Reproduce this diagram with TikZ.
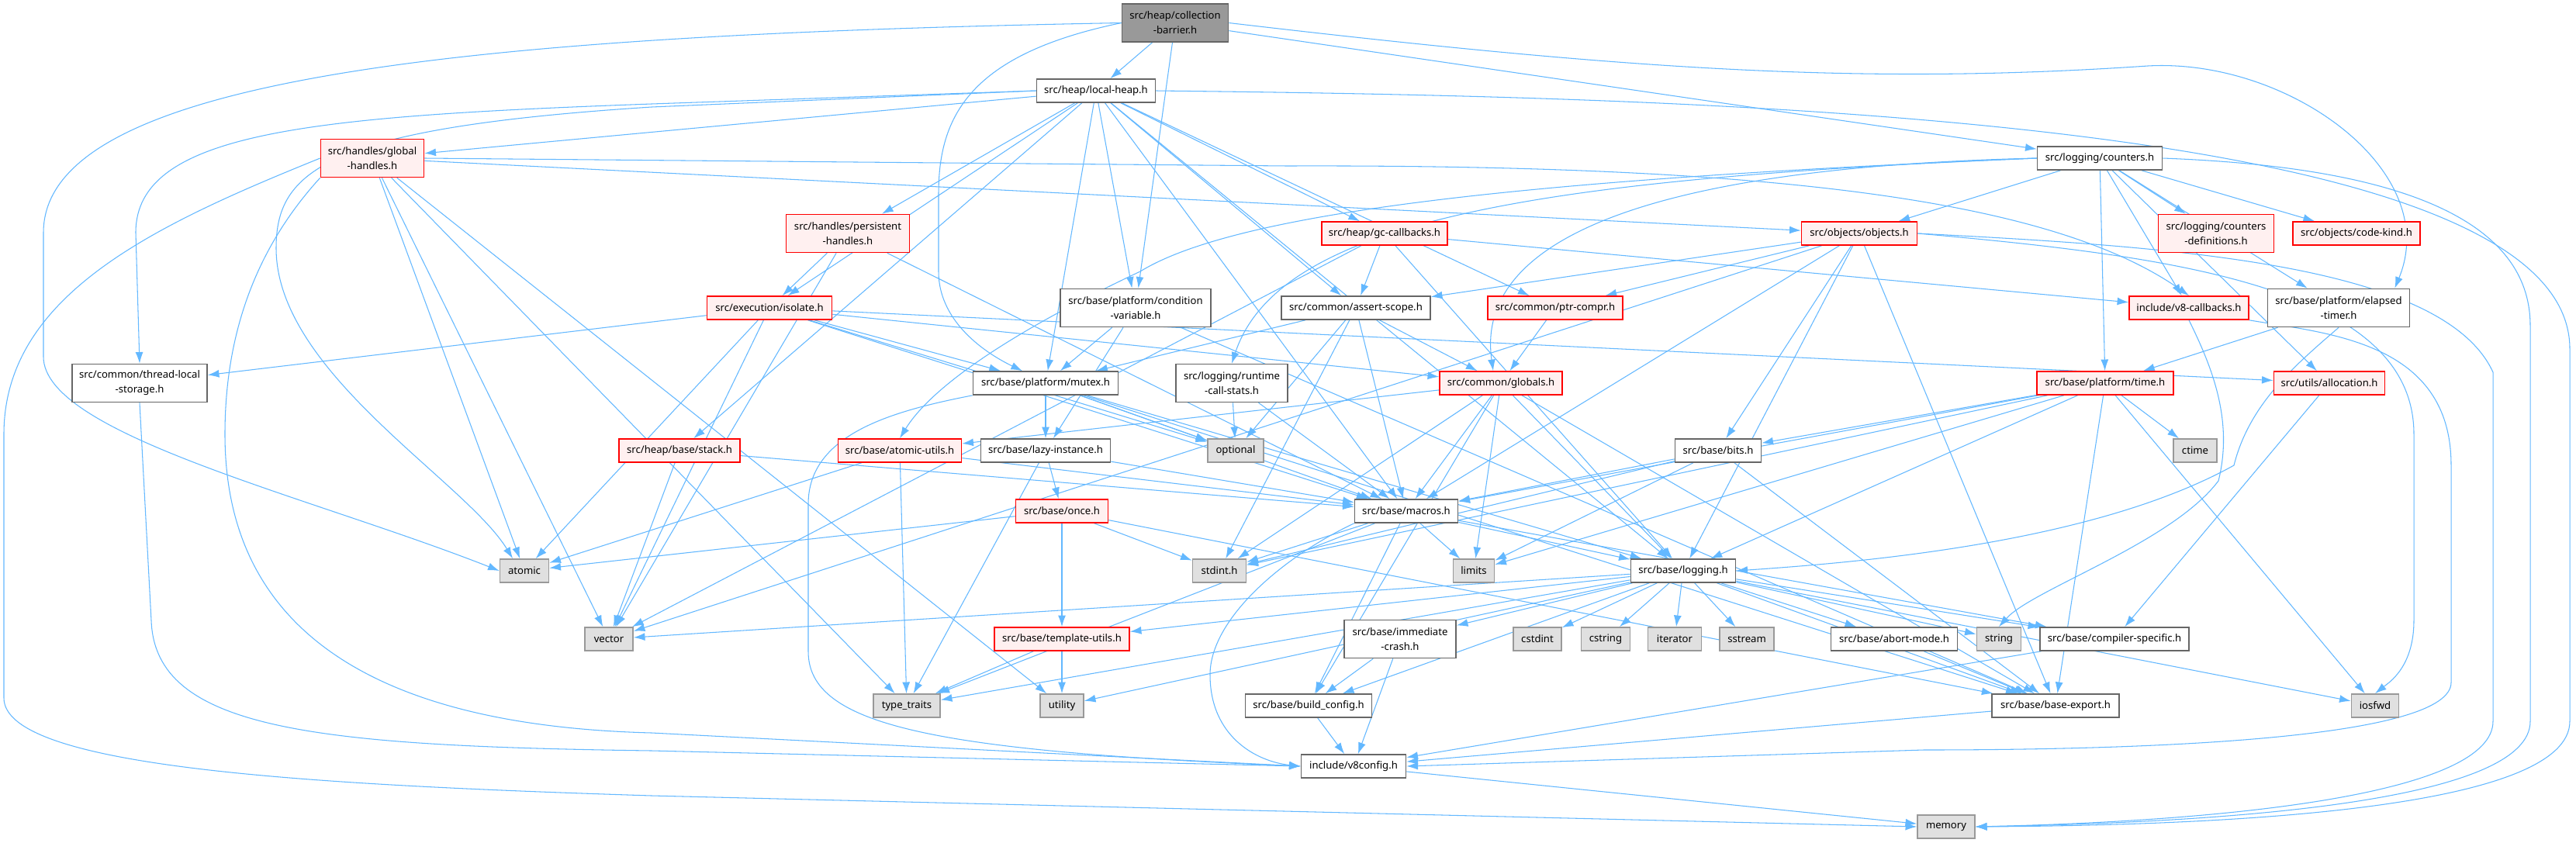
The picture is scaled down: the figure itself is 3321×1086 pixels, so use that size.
\documentclass[tikz,border=0pt]{standalone}
\usepackage{fontspec}
\setmainfont{Noto Sans}
\usetikzlibrary{arrows.meta,calc}
\definecolor{edgec}{HTML}{63B8FF}
\definecolor{nborder}{HTML}{666666}
\definecolor{redfill}{HTML}{FFF0F0}
\definecolor{sysfill}{HTML}{E0E0E0}
\definecolor{sysborder}{HTML}{999999}
\definecolor{rootfill}{HTML}{999999}
\pgfdeclarelayer{back}
\pgfdeclarelayer{bg}
\pgfsetlayers{back,bg,main}
\newcommand\gfont{\fontsize{11.2}{16.2}\selectfont}
\tikzset{
  nd/.style={draw=nborder, fill=white, line width=1.4pt, inner sep=0pt, align=center, font=\gfont, minimum height=0.9cm},
  two/.style={minimum height=1.47cm},
  rd/.style={nd, draw=red, fill=redfill},
  sy/.style={nd, draw=sysborder, fill=sysfill},
  rt/.style={nd, draw=nborder, fill=rootfill},
  e/.style={draw=edgec, line width=0.9pt, -{Latex[length=12.5pt,width=8.5pt]}}
}
\begin{document}
\begin{tikzpicture}[x=0.03cm,y=-0.03cm]
\begin{pgfonlayer}{back}
\fill[white] (0,0) rectangle (3321,1086);
\end{pgfonlayer}
\useasboundingbox (0,0) rectangle (3321,1086);
% nodes
\node[rt,two,minimum width=4.11cm] (cb) at (1515,29.5) {src/heap/collection\\-barrier.h};
\node[nd,minimum width=4.59cm] (lh) at (1413,117) {src/heap/local-heap.h};
\node[rd,two,minimum width=3.99cm] (gh) at (480,204) {src/handles/global\\-handles.h};
\node[nd,minimum width=4.83cm] (cnt) at (2707,204) {src/logging/counters.h};
\node[rd,two,minimum width=4.77cm] (ph) at (1093,301) {src/handles/persistent\\-handles.h};
\node[rd,minimum width=4.86cm] (gcc) at (1785,301) {src/heap/gc-callbacks.h};
\node[rd,minimum width=4.47cm] (obj) at (2397,301) {src/objects/objects.h};
\node[rd,two,minimum width=4.47cm] (cdef) at (2857,301) {src/logging/counters\\-definitions.h};
\node[rd,minimum width=4.92cm] (ck) at (3038,301) {src/objects/code-kind.h};
\node[rd,minimum width=4.83cm] (iso) at (992,397) {src/execution/isolate.h};
\node[nd,two,minimum width=5.82cm] (cv) at (1464,397) {src/base/platform/condition\\-variable.h};
\node[nd,minimum width=5.76cm] (as) at (1748,397) {src/common/assert-scope.h};
\node[rd,minimum width=5.22cm] (pc) at (2005,397) {src/common/ptr-compr.h};
\node[rd,minimum width=4.62cm] (v8cb) at (2822,397) {include/v8-callbacks.h};
\node[nd,two,minimum width=5.49cm] (et) at (3015,397) {src/base/platform/elapsed\\-timer.h};
\node[nd,two,minimum width=5.22cm] (tls) at (180,494) {src/common/thread-local\\-storage.h};
\node[nd,minimum width=5.61cm] (mtx) at (1348,494) {src/base/platform/mutex.h};
\node[nd,two,minimum width=4.32cm] (rcs) at (1588,494) {src/logging/runtime\\-call-stats.h};
\node[rd,minimum width=4.74cm] (glb) at (1935,494) {src/common/globals.h};
\node[rd,minimum width=5.28cm] (time) at (2714,494) {src/base/platform/time.h};
\node[rd,minimum width=4.29cm] (alloc) at (3003,494) {src/utils/allocation.h};
\node[rd,minimum width=4.68cm] (stack) at (876,581) {src/heap/base/stack.h};
\node[rd,minimum width=4.77cm] (au) at (1160,581) {src/base/atomic-utils.h};
\node[nd,minimum width=5.01cm] (li) at (1348,581) {src/base/lazy-instance.h};
\node[sy,minimum width=2.16cm] (opt) at (1593,581) {optional};
\node[nd,minimum width=3.33cm] (bits) at (2215,581) {src/base/bits.h};
\node[sy,minimum width=1.68cm] (ctime) at (2830,581) {ctime};
\node[rd,minimum width=3.57cm] (once) at (1369,659) {src/base/once.h};
\node[nd,minimum width=3.99cm] (macros) at (1813,659) {src/base/macros.h};
\node[sy,minimum width=1.89cm] (atomic) at (676,736) {atomic};
\node[sy,minimum width=2.07cm] (stdint) at (1572,736) {stdint.h};
\node[sy,minimum width=1.59cm] (limits) at (1900,736) {limits};
\node[nd,minimum width=4.05cm] (logging) at (2170,736) {src/base/logging.h};
\node[sy,minimum width=1.86cm] (vector) at (785,824) {vector};
\node[rd,minimum width=5.22cm] (tu) at (1369,824) {src/base/template-utils.h};
\node[nd,two,minimum width=4.32cm] (imc) at (1805,824) {src/base/immediate\\-crash.h};
\node[sy,minimum width=1.86cm] (cstdint) at (1982,824) {cstdint};
\node[sy,minimum width=1.89cm] (cstring) at (2070,824) {cstring};
\node[sy,minimum width=2.07cm] (iterator) at (2159,824) {iterator};
\node[sy,minimum width=2.10cm] (sstream) at (2252,824) {sstream};
\node[nd,minimum width=4.89cm] (abort) at (2442,824) {src/base/abort-mode.h};
\node[sy,minimum width=1.71cm] (string) at (2577,824) {string};
\node[nd,minimum width=5.76cm] (cs) at (2726,824) {src/base/compiler-specific.h};
\node[sy,minimum width=2.58cm] (tt) at (1169,910) {type\_traits};
\node[sy,minimum width=1.68cm] (util) at (1369,910) {utility};
\node[nd,minimum width=4.89cm] (bc) at (1687,910) {src/base/build\_config.h};
\node[nd,minimum width=4.92cm] (be) at (2650,910) {src/base/base-export.h};
\node[sy,minimum width=1.83cm] (iosfwd) at (3062,910) {iosfwd};
\node[nd,minimum width=4.05cm] (v8c) at (1745,988) {include/v8config.h};
\node[sy,minimum width=2.22cm] (memory) at (2509,1066) {memory};
% edges
\begin{pgfonlayer}{bg}
% long routed edges
\draw[e] (cb.west) .. controls (600,45) and (56,100) .. (56,300) -- (56,460) .. controls (56,560) and (400,640) .. (atomic.west);
\draw[e] (gh.west) .. controls (200,290) and (5,380) .. (5,560) -- (5,900) .. controls (5,990) and (400,1012) .. (840,1026) -- (memory.west);
\draw[e] (lh.west) -- (840,134) .. controls (400,150) and (175,170) .. (175,300) -- (tls.north);
\draw[e] (lh.west) -- (840,138) .. controls (420,165) and (356,220) .. (356,320) .. controls (356,480) and (600,620) .. ($(atomic.north)+(-15,0)$);
\draw[e] (tls.south) -- (195,800) .. controls (200,940) and (400,962) .. (840,968) -- (v8c.west);
\draw[e] (gh.south west) .. controls (330,320) and (290,430) .. (290,560) .. controls (290,790) and (450,935) .. (840,945) -- (v8c.west);
\draw[e] (mtx.south west) .. controls (1150,530) and (1042,560) .. (1042,650) -- (1042,840) .. controls (1042,935) and (1200,968) .. (v8c.west);
\draw[e] (macros.south west) .. controls (1650,720) and (1560,800) .. (1560,870) .. controls (1560,950) and (1620,982) .. (v8c.west);
\draw[e] (lh.east) .. controls (2200,125) and (3313,150) .. (3313,450) -- (3313,930) .. controls (3313,1040) and (2900,1064) .. (memory.east);
\draw[e] (cnt.east) .. controls (3000,212) and (3262,250) .. (3262,420) -- (3262,930) .. controls (3262,1030) and (2900,1060) .. (memory.east);
\draw[e] (obj.east) .. controls (2800,318) and (3150,340) .. (3214,480) -- (3214,930) .. controls (3214,1020) and (2900,1058) .. (memory.east);
\draw[e] (v8cb.south east) .. controls (3000,430) and (3160,440) .. (3160,600) -- (3160,880) .. controls (3160,950) and (2800,967) .. (2480,967) -- (v8c.east);
\draw[e] (obj.east) .. controls (2800,330) and (3112,370) .. (3112,560) -- (3112,800) .. controls (3112,860) and (3080,880) .. (iosfwd.north);
\draw[e] (cb.east) .. controls (2100,90) and (2400,110) .. (2769,85) .. controls (2950,75) and (3150,220) .. ($(et.north east)+(-20,0)$);
\draw[e] (cb.west) .. controls (1250,70) and (1210,150) .. (1210,250) -- (1210,350) .. controls (1210,420) and (1280,460) .. ($(mtx.north)+(-30,0)$);
\draw[e] (gh.east) -- (1660,214) .. controls (2300,212) and (2650,260) .. (v8cb.north);
\draw[e] (cnt.west) .. controls (2150,215) and (1900,300) .. ($(glb.north)+(-10,0)$);
\draw[e] (cnt.west) .. controls (2000,230) and (1600,270) .. (1470,350) .. controls (1300,430) and (1200,500) .. (au.north);
\draw[e] (cnt.west) .. controls (2000,230) and (1650,280) .. (rcs.north);
\draw[e] (v8cb.south) .. controls (2850,470) and (2880,540) .. (2860,620) .. controls (2800,700) and (2620,760) .. (string.north);
\draw[e] (et.south) .. controls (2960,470) and (2900,520) .. (2880,600) .. controls (2700,700) and (2400,725) .. (logging.east);
% straight edges
\foreach \t in {lh,cv,cnt} \draw[e] (cb) -- (\t);
\foreach \t in {gh,iso,ph,mtx,cv,as,pc,gcc,stack,macros,logging} \draw[e] (lh) -- (\t);
\foreach \t in {obj,vector,tt,util,atomic} \draw[e] (gh) -- (\t);
\foreach \t in {iso,vector,macros} \draw[e] (ph) -- (\t);
\foreach \t in {as,v8cb,vector,logging} \draw[e] (gcc) -- (\t);
\foreach \t in {as,pc,bits,logging,macros,vector,be} \draw[e] (obj) -- (\t);
\foreach \t in {cdef,ck,obj,v8cb,et,time,alloc} \draw[e] (cnt) -- (\t);
\foreach \t in {tls,atomic,vector,mtx,macros,glb,alloc,opt} \draw[e] (iso) -- (\t);
\foreach \t in {mtx,li,be} \draw[e] (cv) -- (\t);
\foreach \t in {mtx,glb,macros,opt,stdint} \draw[e] (as) -- (\t);
\draw[e] (pc) -- (glb);
\draw[e] (et) -- (time);
\foreach \t in {li,opt,macros,logging,be} \draw[e] (mtx) -- (\t);
\foreach \t in {opt,macros} \draw[e] (rcs) -- (\t);
\foreach \t in {au,macros,limits,stdint,logging,bc,be} \draw[e] (glb) -- (\t);
\foreach \t in {bits,ctime,macros,stdint,limits,iosfwd,be,logging} \draw[e] (time) -- (\t);
\draw[e] (alloc) -- (cs);
\foreach \t in {macros,vector} \draw[e] (stack) -- (\t);
\foreach \t in {atomic,tt,macros} \draw[e] (au) -- (\t);
\foreach \t in {once,tt,macros} \draw[e] (li) -- (\t);
\foreach \t in {macros,limits,stdint,be} \draw[e] (bits) -- (\t);
\foreach \t in {atomic,stdint,tu,be} \draw[e] (once) -- (\t);
\foreach \t in {limits,logging,stdint,tt,bc,cs} \draw[e] (macros) -- (\t);
\foreach \t in {vector,tu,imc,cstdint,cstring,iterator,sstream,abort,string,cs,be,bc,tt,util,iosfwd} \draw[e] (logging) -- (\t);
\foreach \t in {tt,util} \draw[e] (tu) -- (\t);
\foreach \t in {bc,v8c} \draw[e] (imc) -- (\t);
\draw[e] (abort) -- (be);
\draw[e] (cs) -- (v8c);
\draw[e] (bc) -- (v8c);
\draw[e] (be) -- (v8c);
\draw[e] (v8c) -- (memory);
\end{pgfonlayer}
\end{tikzpicture}
\end{document}
